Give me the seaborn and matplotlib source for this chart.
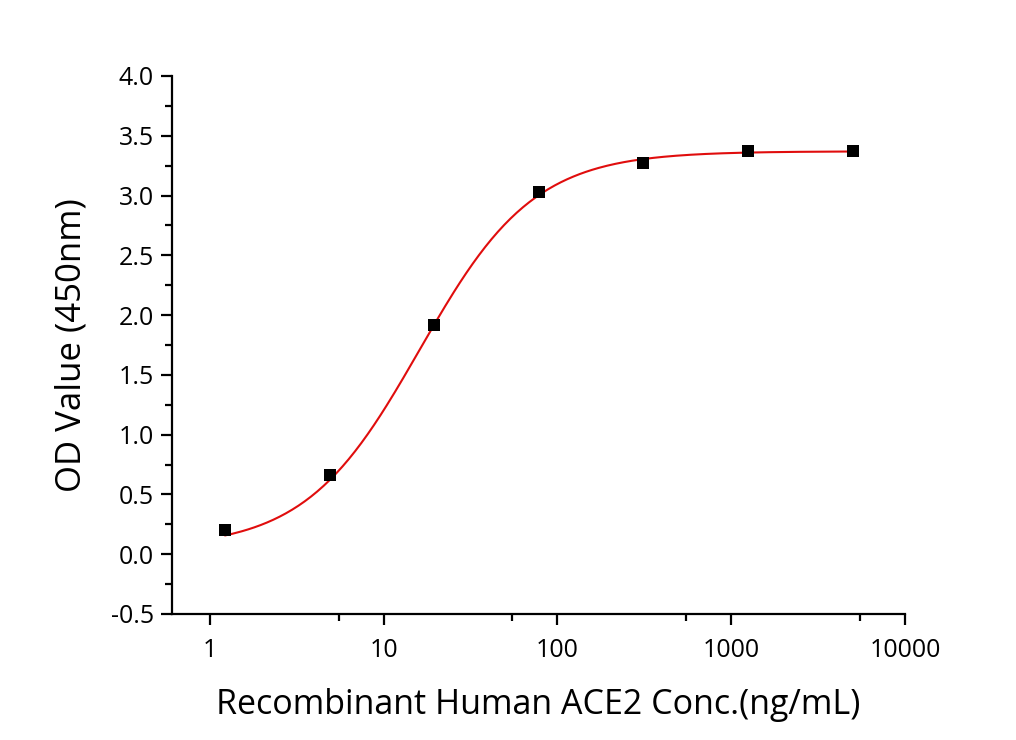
import numpy as np
import pandas as pd
import seaborn as sns
import matplotlib.pyplot as plt
from matplotlib.ticker import FixedLocator, NullFormatter, MultipleLocator

# --- Data (serial 4-fold dilution) ---
conc = [1.22, 4.88, 19.53, 78.13, 312.5, 1250, 5000]       # ng/mL
od = [0.20, 0.66, 1.92, 3.03, 3.27, 3.37, 3.37]            # OD 450nm

# --- 4PL fit parameters (estimated from the drawn red curve) ---
bottom = 0.05
top = 3.37
ec50 = 16.1
hill = 1.32

x_ticks = [1, 10, 100, 1000, 10000]
x_tick_labels = ["1", "10", "100", "1000", "10000"]
x_minor = [5.5, 55, 550, 5500]

df = pd.DataFrame({"conc": conc, "od": od})

sns.set_style("ticks")
plt.rcParams['font.family'] = ['Open Sans', 'DejaVu Sans']
plt.rcParams['text.color'] = 'black'
plt.rcParams['axes.labelcolor'] = 'black'
plt.rcParams['xtick.color'] = 'black'
plt.rcParams['ytick.color'] = 'black'
plt.rcParams['axes.edgecolor'] = 'black'

fig = plt.figure(figsize=(10.16, 7.4), dpi=100)
ax = fig.add_axes([0.1693, 0.1703, 0.7214, 0.727])

# fitted curve over the measured range
xs = np.logspace(np.log10(conc[0]), np.log10(conc[-1]), 300)
ys = bottom + (top - bottom) / (1 + (ec50 / xs) ** hill)
ax.plot(xs, ys, color="#e00d0d", lw=1.5, zorder=2)

sns.scatterplot(data=df, x="conc", y="od", marker="s", color="black",
                s=75, edgecolor="black", linewidth=0, ax=ax, zorder=3)

ax.set_xscale("log")
ax.set_xlim(0.605, 10000)
ax.set_ylim(-0.5, 4.0)
ax.xaxis.set_major_locator(FixedLocator(x_ticks))
ax.set_xticklabels(x_tick_labels)
ax.xaxis.set_minor_locator(FixedLocator(x_minor))
ax.xaxis.set_minor_formatter(NullFormatter())
ax.yaxis.set_major_locator(MultipleLocator(0.5))
ax.yaxis.set_minor_locator(MultipleLocator(0.25))
ax.yaxis.set_major_formatter(plt.FuncFormatter(lambda v, p: f"{v:.1f}"))

for s in ["left", "bottom"]:
    ax.spines[s].set_linewidth(1.6)
sns.despine(ax=ax)

ax.tick_params(which="major", length=8, width=1.6, labelsize=18, pad=5)
ax.tick_params(which="minor", length=5, width=1.6)
ax.tick_params(axis="x", which="major", pad=9)

ax.set_xlabel("Recombinant Human ACE2 Conc.(ng/mL)", fontsize=24.5, labelpad=18)
ax.set_ylabel("OD Value (450nm)", fontsize=25, labelpad=16)

fig.savefig("out.png", dpi=100)
